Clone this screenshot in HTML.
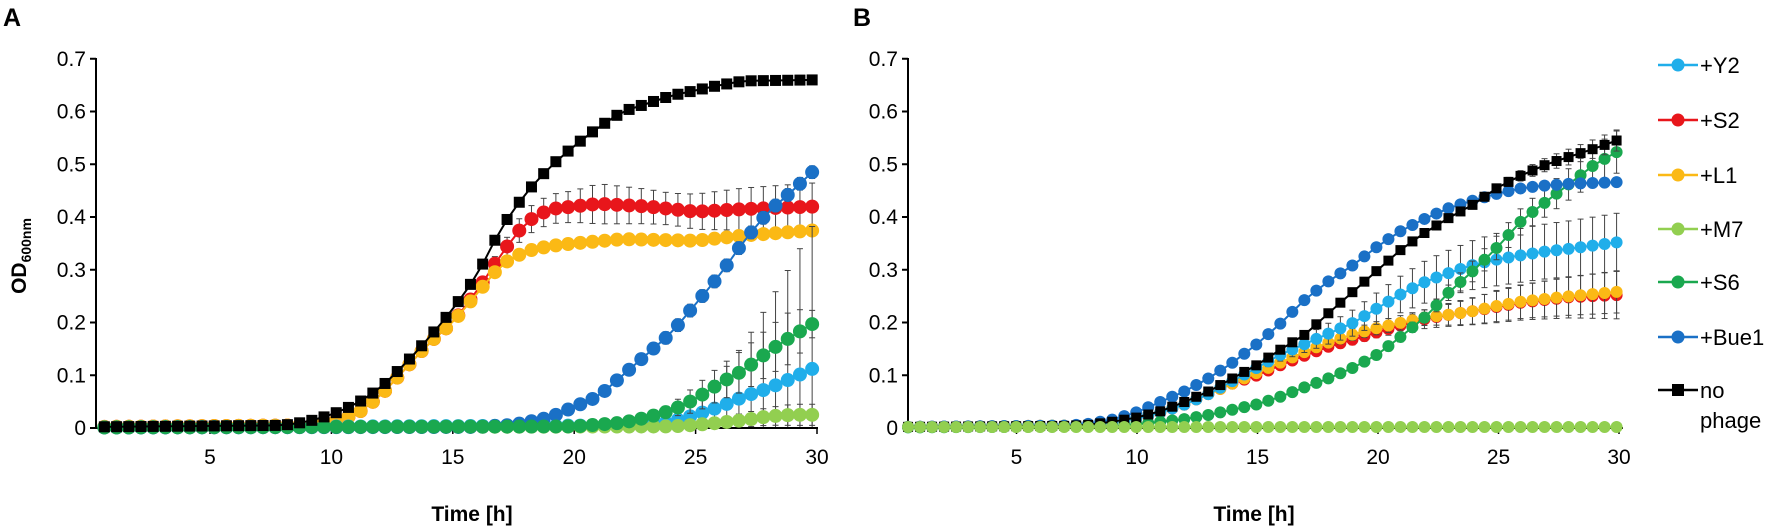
<!DOCTYPE html>
<html><head><meta charset="utf-8"><style>
html,body{margin:0;padding:0;background:#fff;}
svg{display:block;font-family:"Liberation Sans",Arial,sans-serif;}
</style></head><body>
<svg id="s" width="1772" height="529" xmlns="http://www.w3.org/2000/svg">
<rect width="1772" height="529" fill="#fff"/>
<text x="3" y="26" font-size="25" font-weight="bold">A</text>
<text x="853" y="26" font-size="25" font-weight="bold">B</text>
<text transform="translate(26,256) rotate(-90)" text-anchor="middle" font-size="21" font-weight="bold">OD<tspan font-size="14" dy="5">600nm</tspan></text>
<text x="472" y="521" text-anchor="middle" font-size="21" font-weight="bold">Time [h]</text>
<text x="1254" y="521" text-anchor="middle" font-size="21" font-weight="bold">Time [h]</text>
<g id="g"></g>
</svg>
<script>
const NS="http://www.w3.org/2000/svg";
const g=document.getElementById('g');
function el(t,a,txt){const e=document.createElementNS(NS,t);for(const k in a)e.setAttribute(k,a[k]);if(txt!==undefined)e.textContent=txt;g.appendChild(e);return e;}
function interp(an,t){const ks=Object.keys(an).map(Number).sort((a,b)=>a-b);
 if(t<=ks[0])return an[ks[0]];for(let i=1;i<ks.length;i++){if(t<=ks[i]){const a=ks[i-1],b=ks[i];return an[a]+(an[b]-an[a])*(t-a)/(b-a);}}return an[ks[ks.length-1]];}
const C={Y2:'#20aeea',S2:'#e8161b',L1:'#fbb915',M7:'#92cf50',S6:'#1aa84f',Bue1:'#1a70c6',no:'#000'};
function panel(P){
 const X=t=>P.x0+P.sx*t, Y=v=>428-v*527.5;
 el('line',{x1:P.ax,y1:58,x2:P.ax,y2:428,stroke:'#000','stroke-width':2});
 el('line',{x1:P.ax,y1:428,x2:P.xe,y2:428,stroke:'#000','stroke-width':2});
 for(let i=0;i<=7;i++){const y=Y(i/10);el('line',{x1:P.ax-6,y1:y,x2:P.ax,y2:y,stroke:'#000','stroke-width':2});
  el('text',{x:P.ax-10,y:y+7,'text-anchor':'end','font-size':21},i==0?'0':'0.'+i);}
 for(let t=5;t<=30;t+=5){el('line',{x1:X(t),y1:428,x2:X(t),y2:434,stroke:'#000','stroke-width':1.5});
  el('text',{x:X(t),y:464,'text-anchor':'middle','font-size':21},String(t));}
 const n=P.n,ts=[];for(let i=0;i<n;i++)ts.push(P.t0+(P.t1-P.t0)*i/(n-1));
 for(const s of P.order){const d=P.d[s];const e=P.e[s]||{0:0};
  const pts=ts.map(t=>[X(t),Y(interp(d,t)),interp(e,t)*527.5]);
  for(const p of pts){if(p[2]>2){const yt=p[1]-p[2],yb=Math.min(p[1]+p[2],427);
   el('line',{x1:p[0],y1:yt,x2:p[0],y2:yb,stroke:'#444','stroke-width':1});
   el('line',{x1:p[0]-3,y1:yt,x2:p[0]+3,y2:yt,stroke:'#444','stroke-width':1});
   if(yb<427)el('line',{x1:p[0]-3,y1:yb,x2:p[0]+3,y2:yb,stroke:'#444','stroke-width':1});}}
  el('polyline',{points:pts.map(p=>p[0].toFixed(1)+','+p[1].toFixed(1)).join(' '),fill:'none',stroke:C[s],'stroke-width':2});
  for(const p of pts){if(s=='no')el('rect',{x:p[0]-P.sq/2,y:p[1]-P.sq/2,width:P.sq,height:P.sq,fill:'#000'});
   else el('circle',{cx:p[0],cy:p[1],r:P.r,fill:C[s]});}
 }
}
panel({ax:96,xe:818,x0:88.6,sx:24.28,t0:0.65,t1:29.8,n:59,r:7,sq:11,
 order:['S2','L1','Y2','M7','Bue1','S6','no'],
 d:{
 no:{0:0.002,8:0.005,9:0.012,10:0.025,11:0.045,12:0.075,13:0.12,14:0.17,15:0.225,16:0.29,17:0.38,18:0.445,19:0.495,20:0.535,21:0.57,22:0.6,23:0.615,24:0.63,25:0.64,26:0.65,27:0.658,30:0.66},
 S2:{0:0.002,9:0.005,10:0.012,11:0.025,12:0.06,13:0.11,14:0.16,15:0.2,16:0.26,17:0.33,18:0.39,19:0.415,20:0.42,21:0.425,23:0.42,25:0.41,27:0.415,30:0.42},
 L1:{0:0.002,9:0.005,10:0.012,11:0.025,12:0.06,13:0.11,14:0.16,15:0.2,16:0.255,17:0.31,18:0.335,19:0.345,20:0.35,22:0.358,25:0.355,27:0.365,30:0.375},
 Bue1:{0:0.001,16:0.002,17.5:0.006,19:0.02,20:0.04,21:0.06,22:0.1,23:0.14,24:0.18,25:0.235,26:0.29,27:0.355,28:0.41,29:0.45,29.8:0.485},
 S6:{0:0.001,20:0.003,22:0.01,23:0.02,24:0.033,25:0.055,26:0.085,27:0.11,28:0.145,29:0.175,29.8:0.197},
 Y2:{0:0.001,23:0.005,24:0.012,25:0.025,26:0.04,27:0.06,28:0.075,29:0.095,29.8:0.112},
 M7:{0:0.001,24:0.003,25:0.006,26:0.01,27:0.015,28:0.022,29:0.025,29.8:0.025}},
 e:{S2:{0:0,15:0.005,17:0.015,18:0.025,20:0.03,21:0.038,24:0.03,27:0.04,30:0.045},
 L1:{0:0,15:0.008,20:0.01,30:0.01},Bue1:{0:0,20:0.006,24:0.012,30:0.012},
 S6:{0:0,22:0.005,24:0.012,25:0.025,27:0.04,29:0.05,30:0.02},
 Y2:{0:0,23:0.008,25:0.03,26:0.06,27:0.1,28:0.16,29:0.22,29.8:0.27},
 M7:{0:0,26:0.01,29:0.02}}
});
panel({ax:908,xe:1623,x0:896,sx:24.1,t0:0.5,t1:29.9,n:60,r:6,sq:10,
 order:['S2','L1','Y2','S6','Bue1','no','M7'],
 d:{
 no:{0:0.002,7:0.004,8:0.006,9:0.012,10:0.02,11:0.032,12:0.05,13:0.07,14:0.095,15:0.12,16:0.15,17:0.178,18:0.22,19:0.26,20:0.3,21:0.34,22:0.372,23:0.4,24:0.425,25:0.457,26:0.48,27:0.5,28:0.515,29:0.53,29.9:0.545},
 Bue1:{0:0.002,7:0.004,8:0.008,9:0.016,10:0.03,11:0.05,12:0.07,13:0.095,14:0.125,15:0.16,16:0.2,17:0.245,18:0.28,19:0.31,20:0.345,21:0.375,22:0.398,23:0.418,24:0.432,25:0.445,26:0.455,27:0.46,28:0.463,29.9:0.466},
 Y2:{0:0.002,8:0.005,10:0.018,11:0.03,12:0.045,13:0.065,14:0.09,15:0.115,16:0.14,17:0.16,18:0.18,19:0.2,20:0.228,21:0.255,22:0.278,23:0.295,24:0.31,25:0.32,26:0.328,27:0.335,28:0.34,29.9:0.352},
 L1:{0:0.002,8:0.005,10:0.018,11:0.03,12:0.045,13:0.065,14:0.085,15:0.105,16:0.125,17:0.145,18:0.163,19:0.178,20:0.19,21:0.2,22:0.21,23:0.215,24:0.222,25:0.232,26:0.24,27:0.245,28:0.25,29.9:0.258},
 S2:{0:0.002,8:0.005,10:0.018,11:0.03,12:0.045,13:0.065,14:0.085,15:0.1,16:0.12,17:0.138,18:0.155,19:0.168,20:0.182,21:0.195,22:0.207,23:0.215,24:0.222,25:0.23,26:0.238,27:0.243,28:0.248,29.9:0.252},
 S6:{0:0.001,9:0.003,10:0.007,11:0.012,12:0.017,13:0.025,14:0.035,15:0.045,16:0.06,17:0.078,18:0.095,19:0.115,20:0.14,21:0.175,22:0.212,23:0.26,24:0.3,25:0.345,26:0.395,27:0.43,28:0.465,29:0.5,29.9:0.523},
 M7:{0:0.002}},
 e:{Y2:{0:0,15:0.008,18:0.02,20:0.03,22:0.04,25:0.05,29.9:0.055},
 L1:{0:0,18:0.01,22:0.015,25:0.03,29.9:0.04},S2:{0:0,20:0.01,25:0.03,29.9:0.045},
 S6:{0:0,22:0.01,24:0.02,28:0.03,29.9:0.04},Bue1:{0:0,20:0.005,30:0.006},no:{0:0,24:0.005,29.9:0.02}}
});
const L=[['Y2','+Y2',65],['S2','+S2',120],['L1','+L1',175],['M7','+M7',229],['S6','+S6',282],['Bue1','+Bue1',337],['no','no',390]];
for(const [k,txt,y] of L){el('line',{x1:1658,y1:y,x2:1698,y2:y,stroke:C[k],'stroke-width':2.5});
 if(k=='no')el('rect',{x:1672,y:y-6,width:12,height:12,fill:'#000'});else el('circle',{cx:1678,cy:y,r:6.5,fill:C[k]});
 el('text',{x:1700,y:y+8,'font-size':22},txt);}
el('text',{x:1700,y:428,'font-size':22},'phage');
</script>
</body></html>
